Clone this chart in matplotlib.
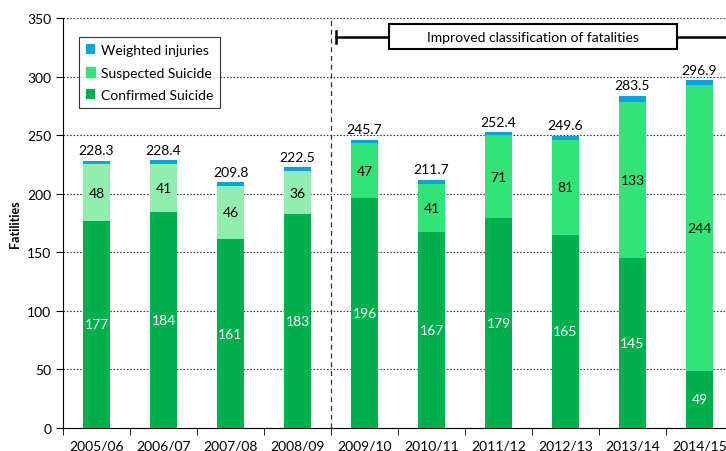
import numpy as np
import matplotlib
matplotlib.use('Agg')
import matplotlib.pyplot as plt
from matplotlib.patches import Rectangle

plt.rcParams['font.family'] = ['Lato', 'DejaVu Sans']

years = ['2005/06', '2006/07', '2007/08', '2008/09', '2009/10',
         '2010/11', '2011/12', '2012/13', '2013/14', '2014/15']
confirmed = [177, 184, 161, 183, 196, 167, 179, 165, 145, 49]
suspected = [48, 41, 46, 36, 47, 41, 71, 81, 133, 244]
totals = [228.3, 228.4, 209.8, 222.5, 245.7, 211.7, 252.4, 249.6, 283.5, 296.9]
injuries = [t - c - s for t, c, s in zip(totals, confirmed, suspected)]

green = '#00b04f'
susp_old = '#92eeb0'
susp_new = '#33e37a'
blue = '#06a3dc'

fig = plt.figure(figsize=(7.26, 4.52), dpi=100)
ax = fig.add_axes([63/726.0, 23/452.0, 670/726.0, 410/452.0])

x = np.arange(len(years))
w = 0.4
susp_cols = [susp_old if i < 4 else susp_new for i in x]
b1 = ax.bar(x, confirmed, w, color=green, label='Confirmed Suicide', zorder=3)
b2 = ax.bar(x, suspected, w, bottom=confirmed, color=susp_cols, label='Suspected Suicide', zorder=3)
base = [c + s for c, s in zip(confirmed, suspected)]
b3 = ax.bar(x, injuries, w, bottom=base, color=blue, label='Weighted injuries', zorder=3)

for i in x:
    ax.text(i, confirmed[i] / 2.0, str(confirmed[i]), ha='center', va='center',
            color='white', fontsize=10, zorder=4)
    ax.text(i, confirmed[i] + suspected[i] / 2.0, str(suspected[i]), ha='center',
            va='center', color='black', fontsize=10, zorder=4)
    ax.text(i, totals[i] + 4, '%.1f' % totals[i], ha='center', va='bottom',
            color='black', fontsize=10, zorder=4)

ax.set_xlim(-0.5, len(years) - 0.5)
ax.set_ylim(0, 350)
ax.set_yticks(range(0, 351, 50))
ax.set_xticks(x)
ax.set_xticklabels(years, fontsize=10)
ax.set_xticks(np.arange(-0.5, len(years), 1), minor=True)
ax.tick_params(axis='x', which='major', length=0, pad=8)
ax.tick_params(axis='x', which='minor', length=5, direction='out')
ax.tick_params(axis='y', length=5, direction='out', labelsize=10)
ax.grid(axis='y', linestyle=(0, (1.5, 1.5)), color='#444444', linewidth=0.8, zorder=0)
for s in ['top', 'right']:
    ax.spines[s].set_visible(False)
ax.set_ylabel('Fatilities', fontsize=9, fontweight='bold')

ax.axvline(3.5, color='#333333', linestyle=(0, (4, 3)), linewidth=0.9, zorder=2)

# annotation bracket
ax.plot([3.58, 9.6], [334, 334], color='black', linewidth=1.8, zorder=5, clip_on=False)
ax.plot([3.58, 3.58], [329, 339], color='black', linewidth=1.8, zorder=5)
ax.add_patch(Rectangle((4.36, 323.5), 4.3, 21.4, fc='white', ec='black', lw=1.5, zorder=6))
ax.text(6.51, 334, 'Improved classification of fatalities', ha='center', va='center',
        fontsize=10, zorder=7)

handles = [b3, b2, b1]
leg = ax.legend(handles=handles, loc='upper left', bbox_to_anchor=(0.013, 0.97),
                fontsize=10, frameon=True, fancybox=False, edgecolor='black',
                handlelength=0.7, handleheight=0.7, handletextpad=0.4,
                borderpad=0.5, labelspacing=0.75)
leg.legend_handles[1].set_color(susp_new)
leg.get_frame().set_linewidth(0.8)

fig.savefig('out.png', dpi=100)
